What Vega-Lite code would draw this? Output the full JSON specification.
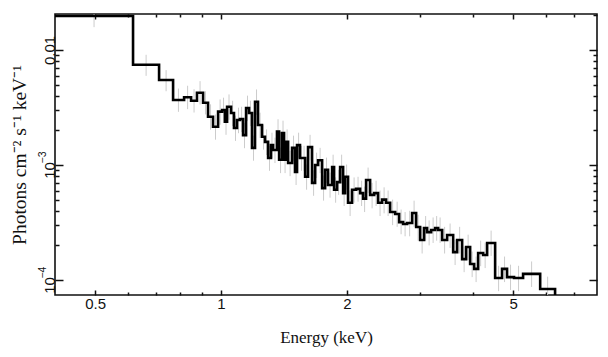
{
  "$schema": "https://vega.github.io/schema/vega-lite/v6.json",
  "autosize": {"type": "none"},
  "padding": {"left": 55, "top": 14, "right": 11, "bottom": 62},
  "width": 542,
  "height": 281,
  "background": "white",
  "config": {
    "view": {"stroke": "#111", "strokeWidth": 1.6},
    "axis": {"domain": false, "grid": false, "tickColor": "#111", "tickWidth": 1.5, "labelColor": "#111", "titleColor": "#111", "labelFont": "Liberation Sans", "labelFontSize": 15, "titleFont": "Liberation Serif", "titleFontSize": 17, "titleFontWeight": "normal"}
  },
  "data": {"values": [
    {"e": 0.4008, "f": 0.01976, "c": 0.497, "lo": 0.0158, "hi": 0.0241},
    {"e": 0.616, "f": 0.00745, "c": 0.662, "lo": 0.00596, "hi": 0.00909},
    {"e": 0.711, "f": 0.00548, "c": 0.739, "lo": 0.00438, "hi": 0.00669},
    {"e": 0.768, "f": 0.00367, "c": 0.791, "lo": 0.0029, "hi": 0.00462},
    {"e": 0.816, "f": 0.00388, "c": 0.832, "lo": 0.00306, "hi": 0.00489},
    {"e": 0.848, "f": 0.00362, "c": 0.862, "lo": 0.00286, "hi": 0.00456},
    {"e": 0.876, "f": 0.00425, "c": 0.891, "lo": 0.00336, "hi": 0.00536},
    {"e": 0.906, "f": 0.00348, "c": 0.918, "lo": 0.00275, "hi": 0.00438},
    {"e": 0.931, "f": 0.00263, "c": 0.944, "lo": 0.00203, "hi": 0.00337},
    {"e": 0.957, "f": 0.00215, "c": 0.97, "lo": 0.00166, "hi": 0.00275},
    {"e": 0.984, "f": 0.00291, "c": 0.995, "lo": 0.00224, "hi": 0.00372},
    {"e": 1.006, "f": 0.00301, "c": 1.014, "lo": 0.00232, "hi": 0.00385},
    {"e": 1.022, "f": 0.00238, "c": 1.028, "lo": 0.00183, "hi": 0.00305},
    {"e": 1.034, "f": 0.00321, "c": 1.045, "lo": 0.00247, "hi": 0.00411},
    {"e": 1.057, "f": 0.00283, "c": 1.066, "lo": 0.00218, "hi": 0.00362},
    {"e": 1.074, "f": 0.0021, "c": 1.083, "lo": 0.00162, "hi": 0.00269},
    {"e": 1.092, "f": 0.00246, "c": 1.101, "lo": 0.00189, "hi": 0.00315},
    {"e": 1.11, "f": 0.00251, "c": 1.12, "lo": 0.00193, "hi": 0.00321},
    {"e": 1.129, "f": 0.00182, "c": 1.138, "lo": 0.0014, "hi": 0.00233},
    {"e": 1.148, "f": 0.00313, "c": 1.157, "lo": 0.00241, "hi": 0.00401},
    {"e": 1.167, "f": 0.00283, "c": 1.176, "lo": 0.00218, "hi": 0.00362},
    {"e": 1.186, "f": 0.00141, "c": 1.196, "lo": 0.00109, "hi": 0.0018},
    {"e": 1.206, "f": 0.00355, "c": 1.216, "lo": 0.00273, "hi": 0.00454},
    {"e": 1.226, "f": 0.00223, "c": 1.24, "lo": 0.00172, "hi": 0.00285},
    {"e": 1.253, "f": 0.00176, "c": 1.264, "lo": 0.00136, "hi": 0.00225},
    {"e": 1.274, "f": 0.00159, "c": 1.285, "lo": 0.00122, "hi": 0.00204},
    {"e": 1.296, "f": 0.00115, "c": 1.306, "lo": 0.00089, "hi": 0.00147},
    {"e": 1.317, "f": 0.00149, "c": 1.324, "lo": 0.00115, "hi": 0.00191},
    {"e": 1.332, "f": 0.00135, "c": 1.346, "lo": 0.00104, "hi": 0.00173},
    {"e": 1.361, "f": 0.00195, "c": 1.369, "lo": 0.0015, "hi": 0.0025},
    {"e": 1.377, "f": 0.00111, "c": 1.388, "lo": 0.00085, "hi": 0.00142},
    {"e": 1.399, "f": 0.0019, "c": 1.407, "lo": 0.00146, "hi": 0.00243},
    {"e": 1.415, "f": 0.00111, "c": 1.423, "lo": 0.00085, "hi": 0.00142},
    {"e": 1.431, "f": 0.00159, "c": 1.439, "lo": 0.00122, "hi": 0.00204},
    {"e": 1.447, "f": 0.00104, "c": 1.463, "lo": 0.0008, "hi": 0.00133},
    {"e": 1.479, "f": 0.00141, "c": 1.491, "lo": 0.00109, "hi": 0.0018},
    {"e": 1.503, "f": 0.00087, "c": 1.512, "lo": 0.00067, "hi": 0.00111},
    {"e": 1.52, "f": 0.00149, "c": 1.533, "lo": 0.00115, "hi": 0.00191},
    {"e": 1.545, "f": 0.00115, "c": 1.558, "lo": 0.00089, "hi": 0.00147},
    {"e": 1.571, "f": 0.00115, "c": 1.58, "lo": 0.00089, "hi": 0.00147},
    {"e": 1.589, "f": 0.00079, "c": 1.602, "lo": 0.00061, "hi": 0.00101},
    {"e": 1.615, "f": 0.00143, "c": 1.633, "lo": 0.0011, "hi": 0.00183},
    {"e": 1.651, "f": 0.0007, "c": 1.665, "lo": 0.00054, "hi": 0.0009},
    {"e": 1.679, "f": 0.001, "c": 1.693, "lo": 0.00077, "hi": 0.00128},
    {"e": 1.707, "f": 0.0011, "c": 1.726, "lo": 0.00085, "hi": 0.00141},
    {"e": 1.745, "f": 0.00063, "c": 1.759, "lo": 0.00049, "hi": 0.00081},
    {"e": 1.774, "f": 0.00091, "c": 1.788, "lo": 0.0007, "hi": 0.00116},
    {"e": 1.803, "f": 0.00067, "c": 1.823, "lo": 0.00052, "hi": 0.00086},
    {"e": 1.844, "f": 0.00096, "c": 1.854, "lo": 0.00074, "hi": 0.00123},
    {"e": 1.864, "f": 0.00061, "c": 1.88, "lo": 0.00047, "hi": 0.00078},
    {"e": 1.895, "f": 0.00071, "c": 1.911, "lo": 0.00055, "hi": 0.00091},
    {"e": 1.927, "f": 0.00096, "c": 1.943, "lo": 0.00074, "hi": 0.00123},
    {"e": 1.959, "f": 0.00057, "c": 1.97, "lo": 0.00044, "hi": 0.00073},
    {"e": 1.98, "f": 0.00079, "c": 1.997, "lo": 0.00061, "hi": 0.00101},
    {"e": 2.013, "f": 0.00047, "c": 2.036, "lo": 0.00036, "hi": 0.0006},
    {"e": 2.058, "f": 0.00061, "c": 2.081, "lo": 0.00047, "hi": 0.00078},
    {"e": 2.104, "f": 0.00062, "c": 2.127, "lo": 0.00048, "hi": 0.00079},
    {"e": 2.151, "f": 0.00057, "c": 2.169, "lo": 0.00044, "hi": 0.00073},
    {"e": 2.187, "f": 0.00051, "c": 2.205, "lo": 0.00039, "hi": 0.00065},
    {"e": 2.223, "f": 0.00074, "c": 2.248, "lo": 0.00057, "hi": 0.00095},
    {"e": 2.273, "f": 0.00055, "c": 2.298, "lo": 0.00042, "hi": 0.0007},
    {"e": 2.324, "f": 0.00057, "c": 2.349, "lo": 0.00044, "hi": 0.00073},
    {"e": 2.375, "f": 0.00047, "c": 2.401, "lo": 0.00036, "hi": 0.0006},
    {"e": 2.428, "f": 0.0005, "c": 2.455, "lo": 0.00038, "hi": 0.00064},
    {"e": 2.482, "f": 0.00047, "c": 2.51, "lo": 0.00036, "hi": 0.0006},
    {"e": 2.538, "f": 0.00039, "c": 2.573, "lo": 0.0003, "hi": 0.0005},
    {"e": 2.609, "f": 0.000375, "c": 2.638, "lo": 0.00029, "hi": 0.00048},
    {"e": 2.667, "f": 0.000319, "c": 2.696, "lo": 0.00025, "hi": 0.00041},
    {"e": 2.726, "f": 0.000307, "c": 2.756, "lo": 0.00024, "hi": 0.00039},
    {"e": 2.787, "f": 0.000313, "c": 2.826, "lo": 0.00024, "hi": 0.0004},
    {"e": 2.865, "f": 0.000383, "c": 2.896, "lo": 0.00029, "hi": 0.00049},
    {"e": 2.929, "f": 0.000289, "c": 2.961, "lo": 0.00022, "hi": 0.00037},
    {"e": 2.994, "f": 0.000223, "c": 3.027, "lo": 0.00017, "hi": 0.00029},
    {"e": 3.06, "f": 0.000283, "c": 3.086, "lo": 0.00022, "hi": 0.00036},
    {"e": 3.111, "f": 0.000261, "c": 3.146, "lo": 0.0002, "hi": 0.00033},
    {"e": 3.181, "f": 0.000272, "c": 3.216, "lo": 0.00021, "hi": 0.00035},
    {"e": 3.252, "f": 0.000283, "c": 3.279, "lo": 0.00022, "hi": 0.00036},
    {"e": 3.306, "f": 0.000272, "c": 3.342, "lo": 0.00021, "hi": 0.00035},
    {"e": 3.38, "f": 0.000223, "c": 3.426, "lo": 0.00017, "hi": 0.00029},
    {"e": 3.474, "f": 0.000246, "c": 3.531, "lo": 0.00019, "hi": 0.00031},
    {"e": 3.591, "f": 0.000175, "c": 3.63, "lo": 0.000135, "hi": 0.000224},
    {"e": 3.671, "f": 0.000223, "c": 3.722, "lo": 0.00017, "hi": 0.00029},
    {"e": 3.773, "f": 0.000152, "c": 3.815, "lo": 0.000117, "hi": 0.000195},
    {"e": 3.857, "f": 0.000194, "c": 3.9, "lo": 0.000149, "hi": 0.000248},
    {"e": 3.943, "f": 0.000138, "c": 3.987, "lo": 0.000106, "hi": 0.000177},
    {"e": 4.031, "f": 0.000125, "c": 4.075, "lo": 0.000096, "hi": 0.00016},
    {"e": 4.121, "f": 0.000172, "c": 4.178, "lo": 0.000132, "hi": 0.00022},
    {"e": 4.236, "f": 0.000165, "c": 4.283, "lo": 0.000127, "hi": 0.000211},
    {"e": 4.33, "f": 0.00021, "c": 4.426, "lo": 0.000162, "hi": 0.000269},
    {"e": 4.525, "f": 0.000104, "c": 4.612, "lo": 0.00008, "hi": 0.000133},
    {"e": 4.701, "f": 0.000125, "c": 4.766, "lo": 0.000096, "hi": 0.00016},
    {"e": 4.832, "f": 0.000106, "c": 4.926, "lo": 0.000082, "hi": 0.000136},
    {"e": 5.022, "f": 0.000104, "c": 5.148, "lo": 0.00008, "hi": 0.000133},
    {"e": 5.278, "f": 0.000113, "c": 5.532, "lo": 0.000087, "hi": 0.000145},
    {"e": 5.799, "f": 0.0000835, "c": 6.042, "lo": 0.000064, "hi": 0.000107},
    {"e": 6.295, "f": 0.00005}
  ]},
  "layer": [
    {
      "mark": {"type": "rule", "color": "#cccccc", "strokeWidth": 1, "clip": true},
      "encoding": {
        "x": {"field": "c", "type": "quantitative",
          "scale": {"type": "log", "domain": [0.4008, 7.93], "nice": false, "zero": false},
          "axis": {"orient": "bottom", "title": "Energy (keV)", "titlePadding": 16,
            "values": [0.5, 0.6, 0.7, 0.8, 0.9, 1, 2, 3, 4, 5, 6, 7],
            "labelExpr": "(datum.value == 0.5 || datum.value == 1 || datum.value == 2 || datum.value == 5) ? format(datum.value, '~g') : ''",
            "tickSize": {"condition": {"test": "datum.value == 0.5 || datum.value == 1 || datum.value == 2 || datum.value == 5", "value": -5}, "value": -3},
            "labelPadding": 6, "labelFlush": false, "labelOverlap": false}},
        "y": {"field": "lo", "type": "quantitative",
          "scale": {"type": "log", "domain": [0.0000741, 0.02056], "nice": false, "zero": false},
          "axis": {"orient": "left", "title": "Photons cm⁻² s⁻¹ keV⁻¹", "titlePadding": 9, "titleFontSize": 19.5,
            "values": [0.0001, 0.0002, 0.0003, 0.0004, 0.0005, 0.0006, 0.0007, 0.0008, 0.0009, 0.001, 0.002, 0.003, 0.004, 0.005, 0.006, 0.007, 0.008, 0.009, 0.01, 0.02],
            "labelExpr": "datum.value == 0.01 ? '0.01' : (datum.value == 0.001 || datum.value == 0.0001) ? '10' : ''",
            "labelOffset": {"condition": {"test": "datum.value == 0.01", "value": 0}, "value": 5},
            "tickSize": {"condition": {"test": "datum.value == 0.01 || datum.value == 0.001 || datum.value == 0.0001", "value": -8}, "value": -4},
            "labelAngle": -90, "labelAlign": "center", "labelBaseline": "bottom", "labelPadding": 6, "labelFlush": false, "labelOverlap": false}},
        "y2": {"field": "hi"}
      }
    },
    {
      "mark": {"type": "rule", "strokeOpacity": 0, "clip": true},
      "encoding": {
        "x": {"field": "c", "type": "quantitative", "axis": null},
        "y": {"field": "lo", "type": "quantitative",
          "axis": {"orient": "left", "title": null, "ticks": false, "domain": false,
            "values": [0.0001, 0.001],
            "labelExpr": "datum.value == 0.001 ? '−3' : '−4'",
            "labelFontSize": 10.5, "labelAngle": -90, "labelAlign": "center", "labelBaseline": "bottom",
            "labelPadding": 8, "labelOffset": -8, "labelFlush": false, "labelOverlap": false}},
        "y2": {"field": "hi"}
      }
    },
    {
      "mark": {"type": "line", "interpolate": "step-after", "color": "#000000", "strokeWidth": 2.6, "clip": true},
      "encoding": {
        "x": {"field": "e", "type": "quantitative",
          "axis": {"orient": "top", "title": null, "labels": false,
            "values": [0.5, 0.6, 0.7, 0.8, 0.9, 1, 2, 3, 4, 5, 6, 7],
            "tickSize": {"condition": {"test": "datum.value == 0.5 || datum.value == 1 || datum.value == 2 || datum.value == 5", "value": -5}, "value": -3}}},
        "y": {"field": "f", "type": "quantitative",
          "axis": {"orient": "right", "title": null, "labels": false,
            "values": [0.0001, 0.0002, 0.0003, 0.0004, 0.0005, 0.0006, 0.0007, 0.0008, 0.0009, 0.001, 0.002, 0.003, 0.004, 0.005, 0.006, 0.007, 0.008, 0.009, 0.01, 0.02],
            "tickSize": {"condition": {"test": "datum.value == 0.01 || datum.value == 0.001 || datum.value == 0.0001", "value": -8}, "value": -4}}}
      }
    }
  ],
  "resolve": {"axis": {"x": "independent", "y": "independent"}}
}
